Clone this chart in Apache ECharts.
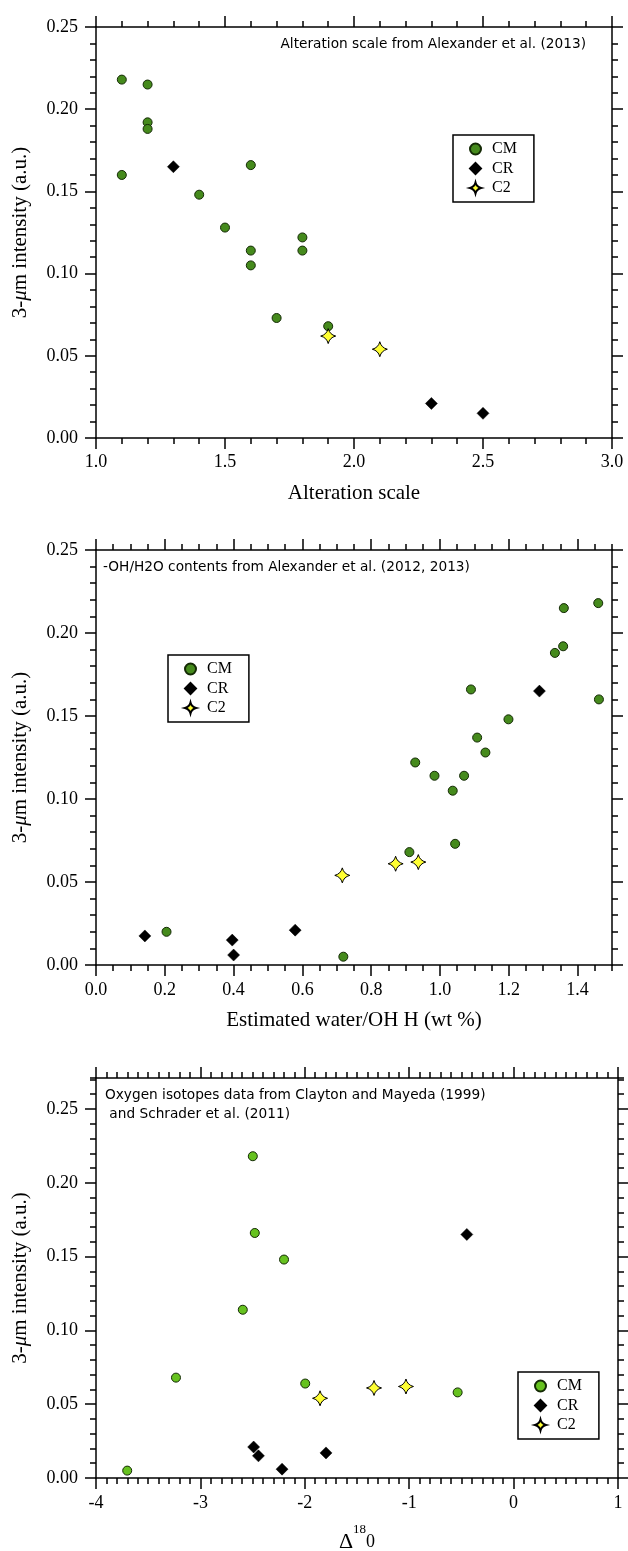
<!DOCTYPE html>
<html><head><meta charset="utf-8">
<script src="https://cdn.jsdelivr.net/npm/echarts@6/dist/echarts.min.js"></script>
<style>html,body{margin:0;padding:0;background:#fff}#c{width:628px;height:1551px}</style>
</head><body><div id="c"></div>
<script>
// ---------- tick labels ----------
const xTicks1 = [1.0, 1.5, 2.0, 2.5, 3.0];
const yTicks1 = [0.00, 0.05, 0.10, 0.15, 0.20, 0.25];
const xTicks2 = [0.0, 0.2, 0.4, 0.6, 0.8, 1.0, 1.2, 1.4];
const yTicks2 = [0.00, 0.05, 0.10, 0.15, 0.20, 0.25];
const xTicks3 = [-4, -3, -2, -1, 0, 1];
const yTicks3 = [0.00, 0.05, 0.10, 0.15, 0.20, 0.25];

// ---------- panel 1: alteration scale ----------
const alterCM = [[1.1,0.218],[1.2,0.215],[1.2,0.192],[1.2,0.188],[1.1,0.160],[1.6,0.166],[1.4,0.148],
  [1.5,0.128],[1.6,0.114],[1.6,0.105],[1.8,0.122],[1.8,0.114],[1.7,0.073],[1.9,0.068]];
const alterCR = [[1.3,0.165],[2.3,0.021],[2.5,0.015]];
const alterC2 = [[1.9,0.062],[2.1,0.054]];

// ---------- panel 2: estimated water ----------
const waterCM = [[1.460,0.218],[1.360,0.215],[1.358,0.192],[1.334,0.188],[1.090,0.166],[1.462,0.160],
  [1.199,0.148],[1.108,0.137],[1.132,0.128],[0.928,0.122],[0.984,0.114],[1.070,0.114],[1.037,0.105],
  [1.044,0.073],[0.911,0.068],[0.205,0.020],[0.719,0.005]];
const waterCR = [[1.289,0.165],[0.142,0.0175],[0.396,0.015],[0.400,0.006],[0.579,0.021]];
const waterC2 = [[0.716,0.054],[0.871,0.061],[0.937,0.062]];

// ---------- panel 3: oxygen isotopes ----------
const oxyCM = [[-2.498,0.218],[-2.479,0.166],[-2.199,0.148],[-2.594,0.114],[-3.234,0.068],
  [-1.996,0.064],[-0.536,0.058],[-3.701,0.005]];
const oxyCR = [[-0.448,0.165],[-2.490,0.021],[-2.444,0.015],[-2.218,0.006],[-1.797,0.017]];
const oxyC2 = [[-1.854,0.054],[-1.337,0.061],[-1.031,0.062]];

const SERIF = '"Liberation Serif","Times New Roman",Times,serif';
const SANS = '"DejaVu Sans","Lucida Grande",sans-serif';
const STAR = 'path://M0,-10 Q2,-2 10,0 Q2,2 0,10 Q-2,2 -10,0 Q-2,-2 0,-10 Z';

const xAxes = [], yAxes = [];
function addAxes(list, grid, dim, min, max, ticks, step, minorStep, fmt, margin, nameOpt) {
  const prim = dim === 'x' ? 'bottom' : 'left';
  const opp = dim === 'x' ? 'top' : 'right';
  const idx = list.length;
  const base = {type: 'value', gridIndex: grid, min: min, max: max, splitLine: {show: false}, axisPointer: {show: false}};
  const line = {show: true, onZero: false, lineStyle: {color: '#000', width: 1.5}};
  const noLine = {show: false, onZero: false};
  const tickStyle = {color: '#000', width: 1.5};
  [prim, opp].forEach(function (pos) {
    list.push(Object.assign({}, base, {
      position: pos, interval: step,
      axisLine: line,
      axisTick: {show: true, inside: false, length: 11, customValues: ticks, lineStyle: tickStyle},
      axisLabel: pos === prim ? {show: true, customValues: ticks, formatter: fmt, margin: margin,
        fontFamily: SERIF, fontSize: 18, color: '#000'} : {show: false}
    }, pos === prim ? nameOpt : {}));
    list.push(Object.assign({}, base, {
      position: pos, interval: minorStep,
      axisLine: noLine,
      axisTick: {show: true, inside: false, length: 6, lineStyle: tickStyle},
      axisLabel: {show: false}
    }));
  });
  return idx;
}

const yName = {
  name: '3-{i|\u03bc}m intensity (a.u.)', nameLocation: 'middle', nameGap: 65,
  nameTextStyle: {fontFamily: SERIF, fontSize: 21, color: '#000',
    rich: {i: {fontFamily: SERIF, fontSize: 21, fontStyle: 'italic', color: '#000'}}}
};
function xName(t) {
  return {name: t, nameLocation: 'middle', nameGap: 45,
    nameTextStyle: {fontFamily: SERIF, fontSize: 21, color: '#000'}};
}
const f1 = v => v.toFixed(1), f2 = v => v.toFixed(2), f0 = v => String(Math.round(v));

const gx = [], gy = [];
gx.push(addAxes(xAxes, 0, 'x', 1.0, 3.0, xTicks1, 0.5, 0.1, f1, 15, xName('Alteration scale')));
gy.push(addAxes(yAxes, 0, 'y', 0, 0.25, yTicks1, 0.05, 0.01, f2, 18, yName));
gx.push(addAxes(xAxes, 1, 'x', 0, 1.5, xTicks2, 0.2, 0.05, f1, 16, xName('Estimated water/OH H (wt %)')));
gy.push(addAxes(yAxes, 1, 'y', 0, 0.25, yTicks2, 0.05, 0.01, f2, 18, yName));
gx.push(addAxes(xAxes, 2, 'x', -4, 1, xTicks3, 1, 0.1, f0, 16, {
  name: '{d|\u0394}{s|18}{z|0}', nameLocation: 'middle', nameGap: 52,
  nameTextStyle: {fontFamily: SERIF, color: '#000', rich: {
    d: {fontFamily: SERIF, fontSize: 22, lineHeight: 25, color: '#000'},
    s: {fontFamily: SERIF, fontSize: 13, lineHeight: 13, padding: [0, 0, 26, 0], color: '#000'},
    z: {fontFamily: SERIF, fontSize: 18, lineHeight: 25, color: '#000'}
  }}
}));
gy.push(addAxes(yAxes, 2, 'y', 0, 0.271, yTicks3, 0.05, 0.01, f2, 18, yName));

function sc(name, p, data, kind, cmColor) {
  const s = {type: 'scatter', name: name, xAxisIndex: gx[p], yAxisIndex: gy[p], data: data,
    symbolKeepAspect: true, emphasis: {disabled: true}};
  if (kind === 'CM') {
    s.symbol = 'circle'; s.symbolSize = 9;
    s.itemStyle = {color: cmColor, borderColor: '#142a05', borderWidth: 1, opacity: 1};
    s.z = 2;
  } else if (kind === 'CR') {
    s.symbol = 'diamond'; s.symbolSize = 12;
    s.itemStyle = {color: '#000', borderColor: '#000', borderWidth: 0.5, opacity: 1};
    s.z = 3;
  } else {
    s.symbol = STAR; s.symbolSize = 15;
    s.itemStyle = {color: '#ffff33', borderColor: '#000', borderWidth: 1, opacity: 1};
    s.z = 4;
  }
  return s;
}
const DARK = '#458a1c', LIGHT = '#66c21f';
const series = [
  sc('CM_1', 0, alterCM, 'CM', DARK), sc('CR_1', 0, alterCR, 'CR'), sc('C2_1', 0, alterC2, 'C2'),
  sc('CM_2', 1, waterCM, 'CM', DARK), sc('CR_2', 1, waterCR, 'CR'), sc('C2_2', 1, waterC2, 'C2'),
  sc('CM_3', 2, oxyCM, 'CM', LIGHT), sc('CR_3', 2, oxyCR, 'CR'), sc('C2_3', 2, oxyC2, 'C2')
];

function leg(p, left, top) {
  return {data: ['CM_' + p, 'CR_' + p, 'C2_' + p], orient: 'vertical', left: left, top: top,
    padding: [6, 17, 6, 16], itemWidth: 11, itemHeight: 11, itemGap: 3.5, symbolKeepAspect: true,
    borderColor: '#000', borderWidth: 1.5, backgroundColor: '#fff', selectedMode: false,
    formatter: n => '{t|' + n.split('_')[0] + '}',
    textStyle: {fontFamily: SERIF, fontSize: 16, color: '#000', lineHeight: 16,
      rich: {t: {fontFamily: SERIF, fontSize: 16, color: '#000', lineHeight: 16, padding: [0, 0, 0, 6]}}}};
}

const chart = echarts.init(document.getElementById('c'), null, {renderer: 'canvas'});
chart.setOption({
  backgroundColor: '#fff',
  animation: false,
  grid: [
    {left: 96, top: 27, width: 516, height: 411, containLabel: false, outerBoundsMode: 'none'},
    {left: 96, top: 550, width: 516, height: 415, containLabel: false, outerBoundsMode: 'none'},
    {left: 96, top: 1078, width: 522, height: 400, containLabel: false, outerBoundsMode: 'none'}
  ],
  xAxis: xAxes,
  yAxis: yAxes,
  legend: [leg(1, 453, 135), leg(2, 168, 655), leg(3, 518, 1372)],
  series: series,
  graphic: [
    {type: 'text', x: 586, y: 44, style: {text: 'Alteration scale from Alexander et al. (2013)',
      fontFamily: SANS, fontSize: 13.7, fill: '#000', align: 'right', verticalAlign: 'middle'}},
    {type: 'text', x: 103, y: 567, style: {text: '-OH/H2O contents from Alexander et al. (2012, 2013)',
      fontFamily: SANS, fontSize: 13.7, fill: '#000', align: 'left', verticalAlign: 'middle'}},
    {type: 'text', x: 105, y: 1085.5, style: {text: 'Oxygen isotopes data from Clayton and Mayeda (1999)\n and Schrader et al. (2011)',
      fontFamily: SANS, fontSize: 13.7, lineHeight: 19, fill: '#000', align: 'left', verticalAlign: 'top'}}
  ]
});
</script></body></html>
